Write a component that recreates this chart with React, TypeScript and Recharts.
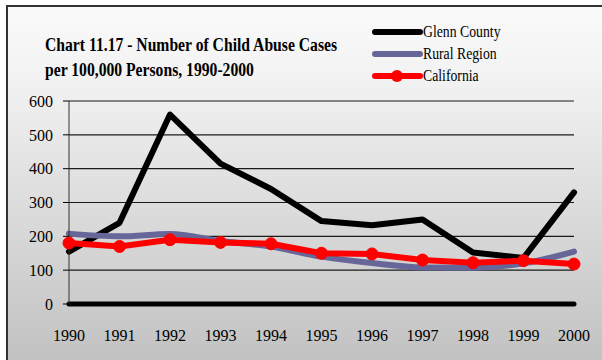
import { LineChart, Line, XAxis, YAxis, CartesianGrid } from "recharts"

const years = ["1990", "1991", "1992", "1993", "1994", "1995", "1996", "1997", "1998", "1999", "2000"]
const glenn = [155, 240, 560, 415, 340, 245, 233, 250, 152, 136, 330]
const rural = [208, 200, 207, 186, 170, 140, 121, 108, 107, 120, 155]
const california = [180, 170, 190, 182, 178, 150, 148, 130, 122, 128, 118]
const yTicks = [0, 100, 200, 300, 400, 500, 600]

const data = years.map((year, i) => ({
  year,
  glenn: glenn[i],
  rural: rural[i],
  california: california[i],
}))

const font = "'Liberation Serif', 'Times New Roman', serif"

const legendItems = [
  { label: "Glenn County", color: "#000000", dot: false },
  { label: "Rural Region", color: "#666699", dot: false },
  { label: "California", color: "#ff0000", dot: true },
]

function LegendBox() {
  return (
    <svg width={170} height={70} style={{ position: "absolute", left: 370, top: 22 }}>
      {legendItems.map((item, i) => {
        const y = 10 + i * 22
        return (
          <g key={item.label}>
            <line x1={5} x2={50} y1={y} y2={y} stroke={item.color} strokeWidth={6} strokeLinecap="round" />
            {item.dot && <circle cx={27} cy={y} r={6} fill={item.color} />}
            <text
              x={53}
              y={y + 5}
              fontFamily={font}
              fontSize={16}
              fill="#000"
              transform={`translate(53 0) scale(0.86 1) translate(-53 0)`}
            >
              {item.label}
            </text>
          </g>
        )
      })}
    </svg>
  )
}

export default function App() {
  return (
    <div style={{ position: "absolute", left: 0, top: 0, width: 602, height: 360, overflow: "hidden", background: "#fff" }}>
      <div
        style={{
          position: "absolute",
          left: 6,
          top: 5,
          width: 610,
          height: 370,
          border: "2px solid #333",
          background: "linear-gradient(#fafafa 0%, #f2f2f2 20%, #bfbfbf 100%)",
        }}
      />
      <div
        style={{
          position: "absolute",
          left: 45,
          top: 33,
          fontFamily: font,
          fontWeight: "bold",
          fontSize: 18,
          lineHeight: "25px",
          color: "#000",
          whiteSpace: "nowrap",
          transform: "scaleX(0.87)",
          transformOrigin: "0 0",
        }}
      >
        Chart 11.17 - Number of Child Abuse Cases
        <br />
        per 100,000 Persons, 1990-2000
      </div>
      <LegendBox />
      <div style={{ position: "absolute", left: 0, top: 0 }}>
        <LineChart width={602} height={360} data={data} margin={{ top: 101, right: 28, bottom: 26, left: 9 }}>
          <CartesianGrid vertical={false} stroke="#1a1a1a" strokeWidth={1.2} />
          <XAxis
            dataKey="year"
            height={30}
            tickLine={false}
            axisLine={{ stroke: "#000", strokeWidth: 5, strokeLinecap: "round" }}
            tickMargin={20}
            tick={{ fontFamily: font, fontSize: 16, fill: "#000" }}
          />
          <YAxis
            width={60}
            domain={[0, 600]}
            ticks={yTicks}
            axisLine={{ stroke: "#333", strokeWidth: 1 }}
            tickLine={{ stroke: "#000" }}
            tickSize={6}
            tickMargin={10}
            tick={{ fontFamily: font, fontSize: 16, fill: "#000" }}
          />
          <Line
            dataKey="glenn"
            stroke="#000"
            strokeWidth={6}
            dot={false}
            strokeLinejoin="round"
            strokeLinecap="round"
            isAnimationActive={false}
          />
          <Line
            type="monotone"
            dataKey="rural"
            stroke="#666699"
            strokeWidth={6}
            dot={false}
            strokeLinecap="round"
            isAnimationActive={false}
          />
          <Line
            dataKey="california"
            stroke="#ff0000"
            strokeWidth={6}
            dot={{ r: 6, fill: "#ff0000", stroke: "#ff0000", strokeWidth: 1 }}
            strokeLinejoin="round"
            isAnimationActive={false}
          />
        </LineChart>
      </div>
    </div>
  )
}
